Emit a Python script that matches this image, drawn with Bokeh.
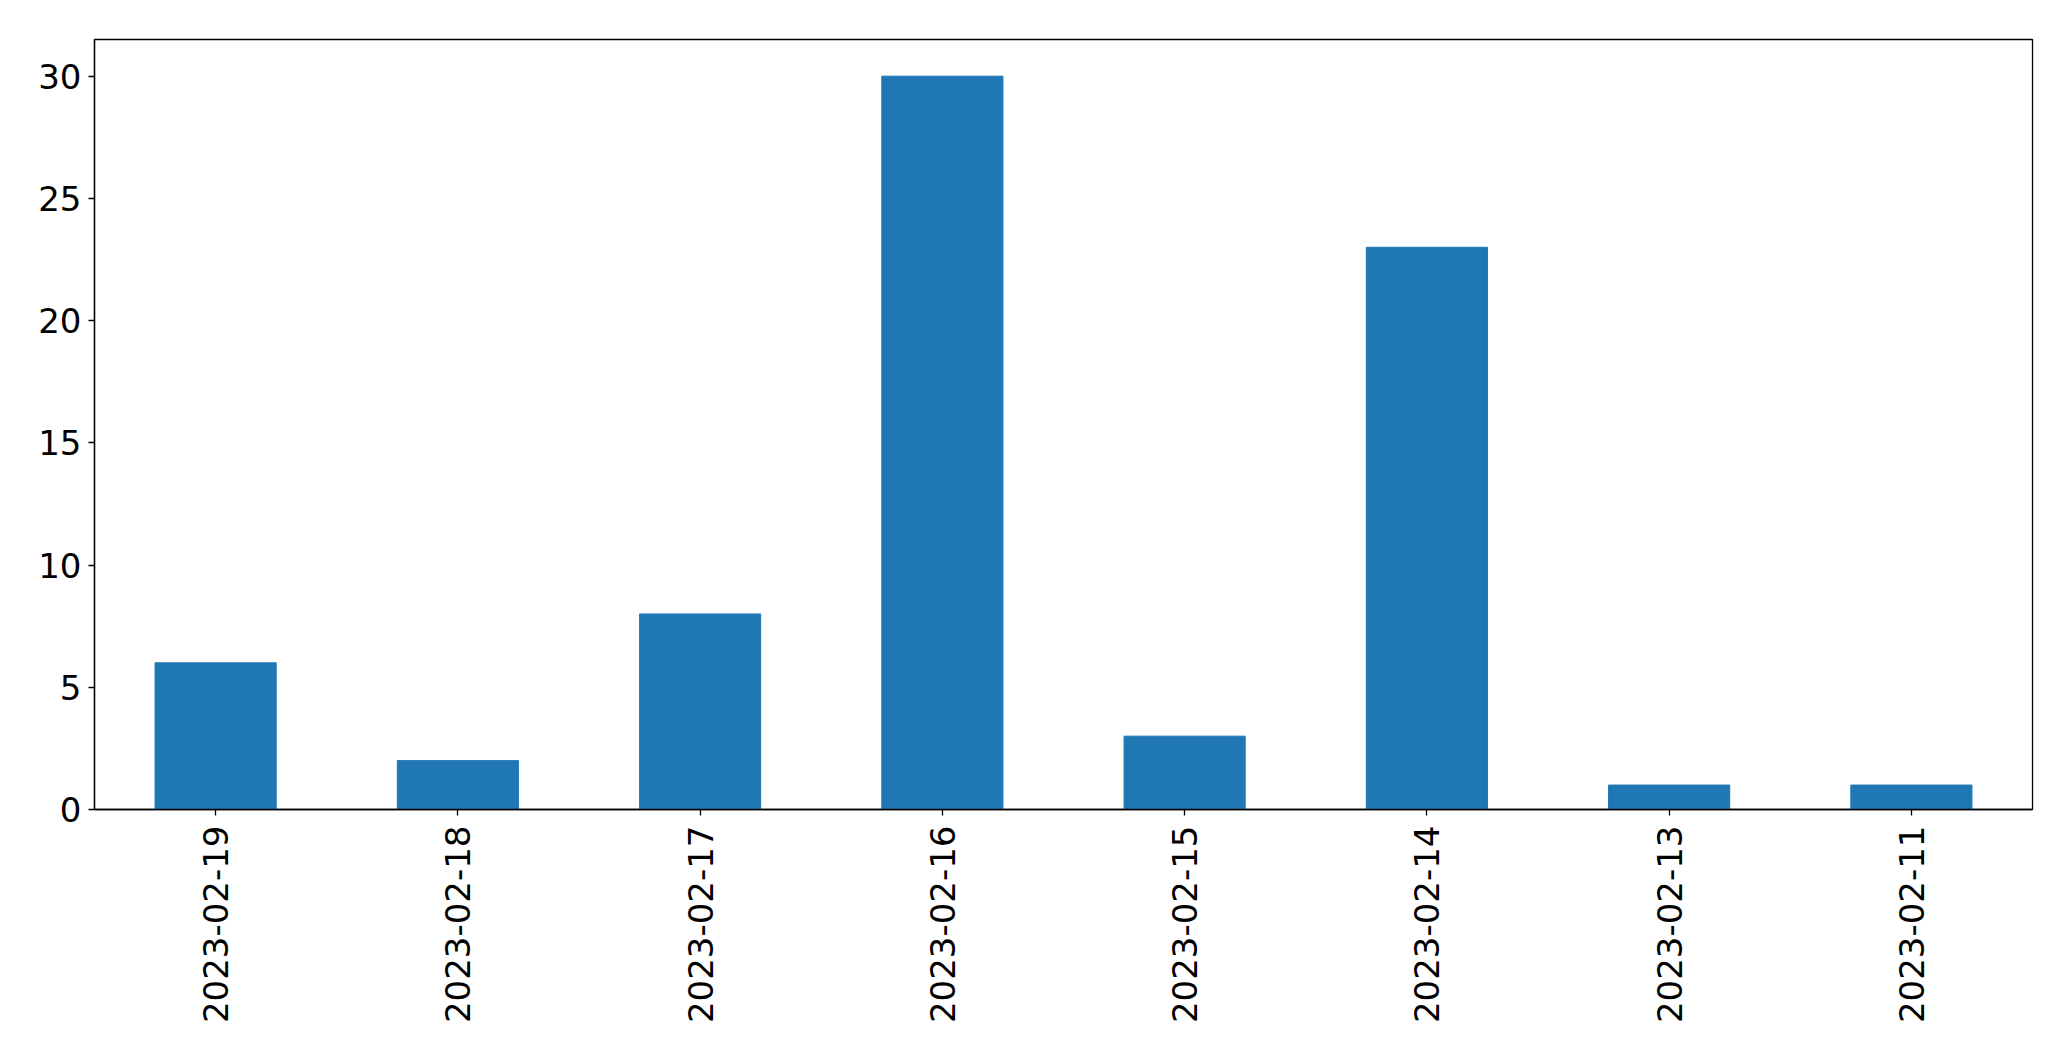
import math
from bokeh.plotting import figure
from bokeh.models import FactorRange, Range1d, FixedTicker
from bokeh.embed import file_html
from bokeh.resources import INLINE

dates = ["2023-02-19", "2023-02-18", "2023-02-17", "2023-02-16",
         "2023-02-15", "2023-02-14", "2023-02-13", "2023-02-11"]
counts = [6, 2, 8, 30, 3, 23, 1, 1]
y_ticks = [0, 5, 10, 15, 20, 25, 30]

p = figure(width=2063, height=1053, output_backend="svg", toolbar_location=None,
           x_range=FactorRange(*dates), y_range=Range1d(0, 31.5),
           min_border_left=94, min_border_top=39, min_border_right=31,
           min_border_bottom=244)
p.vbar(x=dates, top=counts, width=0.5, color="#1f77b4")

p.xgrid.visible = False
p.ygrid.visible = False
p.outline_line_color = "black"
p.outline_line_width = 1.3
p.outline_line_alpha = 1.0
p.x_range.range_padding = 0

for ax in (p.xaxis, p.yaxis):
    ax.major_label_text_font = "DejaVu Sans"
    ax.major_label_text_font_size = "34px"
    ax.major_label_text_color = "black"
    ax.axis_line_color = "black"
    ax.axis_line_width = 1.3
    ax.major_tick_line_color = "black"
    ax.major_tick_line_width = 1.3
    ax.major_tick_out = 6
    ax.major_tick_in = 0
    ax.minor_tick_line_color = None

p.yaxis.ticker = FixedTicker(ticks=y_ticks)
p.yaxis.major_label_standoff = 7
p.xaxis.major_label_orientation = math.pi / 2
p.xaxis.major_label_standoff = 10

open("out.html", "w").write(file_html(p, INLINE))
